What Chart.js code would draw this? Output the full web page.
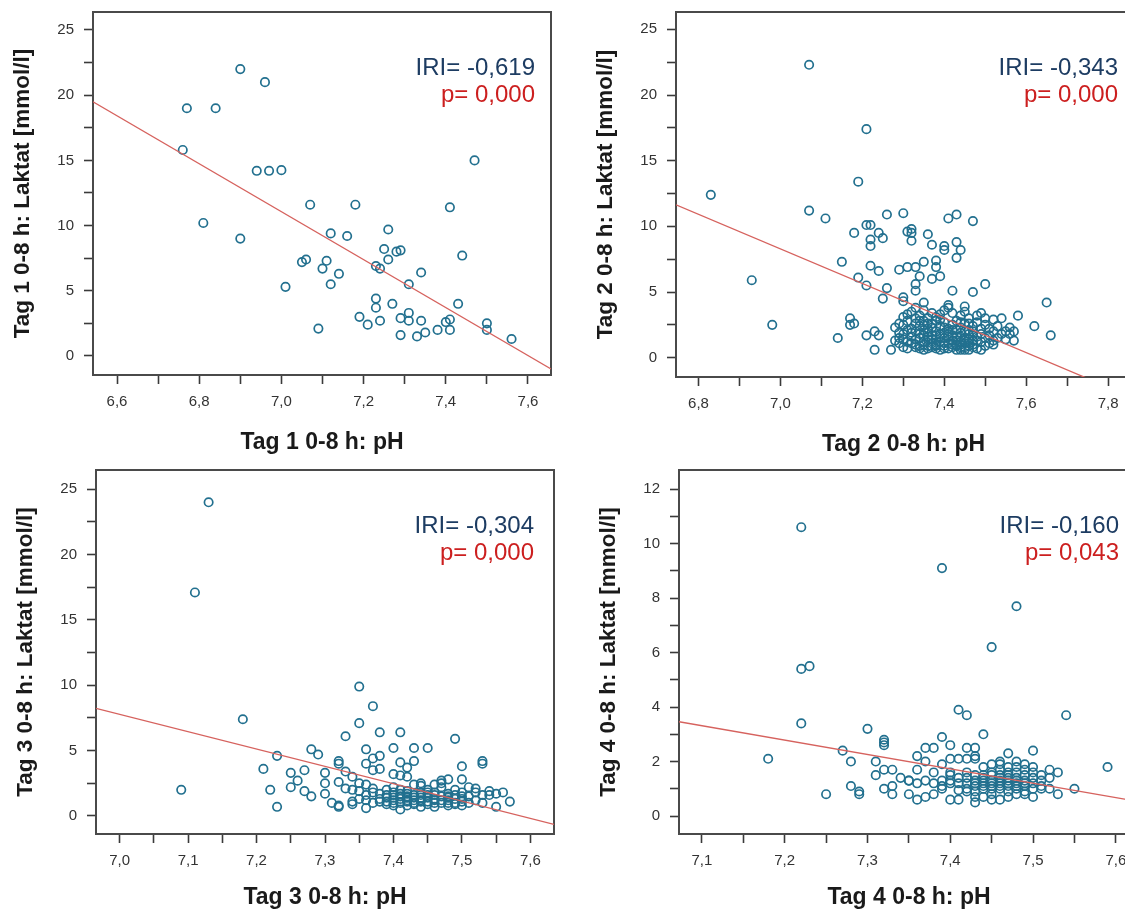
<!DOCTYPE html>
<html><head><meta charset="utf-8">
<script src="https://cdn.jsdelivr.net/npm/chart.js@4.4.1/dist/chart.umd.min.js"></script>
<style>
html,body{margin:0;padding:0;width:1125px;height:916px;overflow:hidden;background:#fff;}
.panel{position:absolute;}
</style></head><body>
<div class="panel" id="w1"><canvas id="c1"></canvas></div>
<div class="panel" id="w2"><canvas id="c2"></canvas></div>
<div class="panel" id="w3"><canvas id="c3"></canvas></div>
<div class="panel" id="w4"><canvas id="c4"></canvas></div>
<script>
// ---------------- DATA ----------------
const xTitles = ['Tag 1 0-8 h: pH', 'Tag 2 0-8 h: pH', 'Tag 3 0-8 h: pH', 'Tag 4 0-8 h: pH'];
const yTitles = ['Tag 1 0-8 h: Laktat [mmol/l]', 'Tag 2 0-8 h: Laktat [mmol/l]', 'Tag 3 0-8 h: Laktat [mmol/l]', 'Tag 4 0-8 h: Laktat [mmol/l]'];
const rLabels = ['IRI= -0,619', 'IRI= -0,343', 'IRI= -0,304', 'IRI= -0,160'];
const pLabels = ['p= 0,000', 'p= 0,000', 'p= 0,000', 'p= 0,043'];

const tag1Points = [[6.76,15.8],[6.77,19.0],[6.84,19.0],[6.81,10.2],[6.90,22.0],[6.90,9.0],[6.96,21.0],[6.94,14.2],[6.97,14.2],[7.00,14.25],[7.01,5.3],[7.07,11.6],[7.09,2.1],[7.05,7.2],[7.06,7.4],[7.11,7.3],[7.10,6.7],[7.12,9.4],[7.12,5.5],[7.14,6.3],[7.16,9.2],[7.18,11.6],[7.19,3.0],[7.21,2.4],[7.23,4.4],[7.23,3.7],[7.23,6.9],[7.24,6.7],[7.24,2.7],[7.25,8.2],[7.26,7.4],[7.26,9.7],[7.27,4.0],[7.28,8.0],[7.29,8.1],[7.29,2.9],[7.29,1.6],[7.31,5.5],[7.31,3.3],[7.31,2.7],[7.33,1.5],[7.34,2.7],[7.34,6.4],[7.35,1.8],[7.38,2.0],[7.40,2.6],[7.41,2.8],[7.41,2.0],[7.41,11.4],[7.43,4.0],[7.44,7.7],[7.47,15.0],[7.50,2.5],[7.50,2.0],[7.56,1.3]];

const tag2Points = [[6.83,12.4],[6.93,5.9],[6.98,2.5],[7.07,22.3],[7.07,11.2],[7.11,10.6],[7.15,7.3],[7.14,1.5],[7.17,3.0],[7.17,2.5],[7.18,2.6],[7.21,17.4],[7.19,13.4],[7.18,9.5],[7.19,6.1],[7.21,5.5],[7.21,10.1],[7.22,10.1],[7.22,9.0],[7.22,8.5],[7.24,9.5],[7.25,9.1],[7.22,7.0],[7.24,6.6],[7.21,1.7],[7.23,2.0],[7.24,1.7],[7.23,0.6],[7.26,10.9],[7.26,5.3],[7.25,4.5],[7.27,0.6],[7.30,11.0],[7.31,9.6],[7.32,9.8],[7.32,9.5],[7.32,8.9],[7.29,6.7],[7.31,6.9],[7.33,6.9],[7.35,7.3],[7.34,6.2],[7.33,5.6],[7.33,5.1],[7.30,4.6],[7.30,4.3],[7.36,9.4],[7.37,8.6],[7.38,7.4],[7.38,6.9],[7.37,6.0],[7.39,6.2],[7.40,8.2],[7.40,8.5],[7.41,10.6],[7.43,10.9],[7.43,8.8],[7.44,8.2],[7.43,7.6],[7.47,10.4],[7.42,5.1],[7.47,5.0],[7.50,5.6],[7.35,4.2],[7.41,4.0],[7.41,3.8],[7.45,3.9],[7.58,3.2],[7.65,4.2],[7.62,2.4],[7.66,1.7],
[7.32,3.5],[7.33,3.8],[7.34,3.2],[7.35,3.6],[7.36,3.0],[7.37,3.4],[7.38,3.1],[7.39,3.3],[7.40,3.6],[7.42,3.4],[7.44,3.2],[7.45,3.5],[7.46,3.0],[7.48,3.2],[7.49,3.4],[7.50,3.0],[7.52,2.9],[7.54,3.0],[7.56,2.3],[7.57,2.0],[7.30,3.1],[7.31,3.3],[7.29,2.6],
[7.28,2.3],[7.29,1.9],[7.30,2.5],[7.31,2.8],[7.32,2.2],[7.33,2.6],[7.34,2.4],[7.35,2.8],[7.36,2.2],[7.37,2.6],[7.38,2.0],[7.39,2.4],[7.40,2.7],[7.41,2.2],[7.42,2.5],[7.43,2.8],[7.44,2.3],[7.45,2.6],[7.46,2.1],[7.47,2.4],[7.48,2.7],[7.49,2.2],[7.50,2.5],[7.51,2.2],[7.52,2.0],[7.53,2.4],[7.55,2.0],[7.56,1.8],[7.33,2.0],[7.35,2.1],[7.37,2.3],[7.41,2.0],[7.43,2.1],[7.45,2.0],[7.47,2.0],
[7.28,1.3],[7.29,1.5],[7.30,1.8],[7.31,1.2],[7.32,1.6],[7.33,1.4],[7.34,1.8],[7.35,1.2],[7.36,1.6],[7.37,1.4],[7.38,1.7],[7.39,1.2],[7.40,1.5],[7.41,1.8],[7.42,1.3],[7.43,1.6],[7.44,1.2],[7.45,1.5],[7.46,1.8],[7.47,1.3],[7.48,1.6],[7.49,1.2],[7.50,1.5],[7.51,1.7],[7.52,1.3],[7.53,1.5],[7.54,1.8],[7.55,1.4],[7.57,1.3],[7.33,1.0],[7.35,1.7],[7.37,1.1],[7.39,1.8],[7.41,1.1],[7.43,1.0],[7.45,1.1],[7.47,1.0],[7.49,1.8],[7.51,1.1],[7.36,1.9],[7.40,1.9],[7.44,1.9],
[7.30,0.8],[7.31,0.7],[7.33,0.8],[7.35,0.6],[7.36,0.9],[7.38,0.7],[7.39,0.6],[7.40,0.9],[7.42,0.8],[7.44,0.6],[7.45,0.8],[7.46,0.6],[7.48,0.7],[7.49,0.6],[7.50,0.9],[7.52,1.0],[7.34,0.9],[7.37,0.8],[7.41,0.7],[7.43,0.9],[7.47,0.8],
[7.34,1.5],[7.35,1.0],[7.36,1.4],[7.37,1.7],[7.38,1.0],[7.38,1.4],[7.39,1.6],[7.40,1.1],[7.41,1.6],[7.42,1.0],[7.42,1.7],[7.43,1.3],[7.44,1.6],[7.44,1.0],[7.45,1.3],[7.46,1.4],[7.46,1.1],[7.47,1.7],[7.48,1.3],[7.45,0.6],[7.44,0.8],[7.46,0.9],[7.43,0.6],[7.34,2.8],[7.33,3.0],[7.35,2.5],[7.36,2.6],[7.38,2.8],[7.39,2.9],[7.40,2.3],[7.42,2.1],[7.44,2.7],[7.46,2.6],[7.32,1.9],[7.31,2.1],[7.30,1.4],[7.29,1.1],[7.32,1.1],[7.34,0.7],[7.36,0.7],[7.38,0.9],[7.40,0.7]];

const tag3Points = [[7.09,2.0],[7.11,17.1],[7.13,24.0],[7.18,7.4],[7.21,3.6],[7.22,2.0],[7.23,0.7],[7.23,4.6],[7.25,3.3],[7.25,2.2],[7.26,2.7],[7.27,3.5],[7.27,1.9],[7.28,5.1],[7.29,4.7],[7.28,1.5],[7.30,2.5],[7.30,3.3],[7.30,1.7],[7.31,1.0],[7.32,0.7],[7.32,0.8],[7.32,4.0],[7.32,4.2],[7.32,2.6],[7.33,6.1],[7.33,3.4],[7.33,2.1],[7.34,3.0],[7.35,7.1],[7.35,9.9],[7.37,8.4],[7.36,5.1],[7.36,4.0],[7.37,3.5],[7.37,4.4],[7.38,4.6],[7.38,6.4],[7.38,3.6],[7.40,5.2],[7.40,3.2],[7.41,6.4],[7.41,4.1],[7.41,3.1],[7.42,3.7],[7.42,3.0],[7.43,4.2],[7.43,5.2],[7.45,5.2],[7.49,5.9],[7.50,2.8],[7.50,3.8],[7.53,4.0],[7.53,4.2],[7.51,2.2],[7.52,2.1],[7.54,1.9],[7.54,1.6],[7.55,0.7],[7.56,1.8],[7.57,1.1],[7.47,2.5],[7.48,2.8],[7.44,2.5],
[7.34,1.1],[7.35,1.3],[7.34,0.9],[7.35,1.9],[7.36,1.6],[7.36,0.6],[7.37,1.0],[7.37,1.8],[7.38,1.3],[7.38,1.1],[7.39,1.6],[7.39,0.9],[7.39,1.4],[7.40,1.2],[7.40,1.8],[7.40,0.8],[7.40,2.2],[7.41,1.0],[7.41,1.5],[7.41,0.5],[7.41,1.3],[7.42,1.1],[7.42,1.7],[7.42,0.8],[7.42,1.4],[7.43,1.2],[7.43,1.6],[7.43,0.9],[7.43,1.0],[7.44,1.4],[7.44,0.7],[7.44,1.8],[7.44,2.3],[7.45,1.1],[7.45,1.6],[7.45,0.9],[7.45,2.0],[7.46,1.3],[7.46,0.7],[7.46,1.8],[7.47,1.0],[7.47,1.5],[7.47,2.2],[7.48,1.2],[7.48,0.8],[7.48,1.7],[7.48,1.4],[7.49,1.0],[7.49,1.6],[7.49,0.9],[7.49,2.0],[7.50,1.3],[7.50,0.8],[7.50,1.8],[7.51,1.0],[7.51,1.5],[7.52,1.2],[7.52,1.8],[7.53,1.6],[7.53,1.0],[7.55,1.7],[7.36,1.2],[7.38,1.7],[7.37,2.1],[7.39,2.0],[7.41,2.0],[7.43,2.4],[7.46,2.4],[7.47,2.7],[7.42,1.9],[7.40,1.6],[7.44,1.1],[7.46,1.0],[7.50,1.1],[7.35,2.5],[7.36,2.4],[7.34,2.0],
[7.40,1.4],[7.41,1.7],[7.42,1.2],[7.43,1.4],[7.44,1.6],[7.45,1.4],[7.46,1.6],[7.47,1.2],[7.48,1.0],[7.49,1.3],[7.44,1.2],[7.42,1.5],[7.40,1.0],[7.46,1.2],[7.48,1.5],[7.50,1.5],[7.39,1.1],[7.45,1.8]];

const tag4Points = [[7.18,2.1],[7.22,3.4],[7.22,5.4],[7.23,5.5],[7.22,10.6],[7.25,0.8],[7.27,2.4],[7.28,1.1],[7.28,2.0],[7.29,0.9],[7.29,0.8],[7.30,3.2],[7.31,2.0],[7.32,1.7],[7.31,1.5],[7.32,2.8],[7.32,2.6],[7.32,2.7],[7.32,1.0],[7.33,0.8],[7.33,1.1],[7.33,1.7],[7.34,1.4],[7.35,0.8],[7.35,1.3],[7.36,1.7],[7.36,2.2],[7.36,0.6],[7.37,0.7],[7.37,2.5],[7.38,2.5],[7.37,2.0],[7.39,2.9],[7.38,0.8],[7.39,1.1],[7.39,1.9],[7.40,2.1],[7.39,9.1],[7.40,2.6],[7.40,0.6],[7.41,0.6],[7.40,1.5],[7.40,1.2],[7.41,0.95],[7.41,2.1],[7.42,2.1],[7.41,3.9],[7.42,3.7],[7.42,2.5],[7.43,2.5],[7.43,2.2],[7.43,2.1],[7.44,3.0],[7.45,6.2],[7.43,0.5],[7.47,2.3],[7.48,7.7],[7.50,2.4],[7.54,3.7],[7.59,1.8],[7.55,1.0],[7.53,0.8],[7.52,1.7],[7.53,1.6],[7.52,1.4],[7.51,1.0],[7.52,1.0],[7.50,0.7],[7.49,0.8],
[7.42,1.2],[7.42,1.0],[7.42,1.4],[7.43,1.1],[7.43,1.3],[7.43,0.9],[7.44,1.2],[7.44,1.0],[7.44,1.5],[7.44,0.7],[7.44,1.8],[7.45,1.1],[7.45,1.3],[7.45,0.8],[7.45,1.6],[7.45,1.9],[7.46,1.0],[7.46,1.2],[7.46,1.4],[7.46,0.6],[7.46,1.7],[7.46,1.9],[7.47,1.1],[7.47,1.3],[7.47,0.9],[7.47,1.5],[7.47,1.8],[7.48,1.0],[7.48,1.2],[7.48,1.4],[7.48,1.6],[7.48,1.8],[7.49,1.1],[7.49,1.3],[7.49,1.5],[7.49,0.9],[7.49,1.9],[7.49,1.7],[7.50,1.2],[7.50,1.0],[7.50,1.4],[7.50,1.6],[7.51,1.1],[7.51,1.3],[7.51,1.5],[7.43,1.5],[7.44,1.3],[7.45,1.0],[7.46,1.5],[7.47,1.6],[7.48,0.8],[7.42,1.6],[7.41,1.2],[7.41,1.4],[7.40,1.3],[7.40,1.6],[7.39,1.3],[7.38,1.2],[7.37,1.3],[7.36,1.2],[7.35,1.3],[7.38,1.6],[7.39,1.0],[7.43,0.7],[7.45,0.6],[7.47,0.7],[7.48,2.0],[7.46,2.0],[7.50,1.8],[7.42,0.9],
[7.44,1.4],[7.45,1.2],[7.46,1.3],[7.47,1.2],[7.48,1.3],[7.49,1.2],[7.45,1.5],[7.47,1.4],[7.43,1.2],[7.46,1.1],[7.48,1.1],[7.44,1.1]];

// regression line end points
const tag1Fit = [[6.5416,19.5],[7.656,-1.0]];
const tag2Fit = [[6.745,11.64],[7.856,-2.98]];
const tag3Fit = [[6.9655,8.24],[7.6345,-0.64]];
const tag4Fit = [[7.0723,3.46],[7.628,0.53]];

// axis ranges
const xRanges = [[6.5416,7.656],[6.745,7.856],[6.9655,7.6345],[7.0723,7.628]];
const yRanges = [[-1.46,26.38],[-1.47,26.32],[-1.38,26.47],[-0.66,12.70]];

// tick values and labels
const xMajor = [[6.6,6.8,7.0,7.2,7.4,7.6],[6.8,7.0,7.2,7.4,7.6,7.8],[7.0,7.1,7.2,7.3,7.4,7.5,7.6],[7.1,7.2,7.3,7.4,7.5,7.6]];
const xMajorLabels = [['6,6','6,8','7,0','7,2','7,4','7,6'],['6,8','7,0','7,2','7,4','7,6','7,8'],['7,0','7,1','7,2','7,3','7,4','7,5','7,6'],['7,1','7,2','7,3','7,4','7,5','7,6']];
const xMinor = [[6.7,6.9,7.1,7.3,7.5],[6.9,7.1,7.3,7.5,7.7],[7.05,7.15,7.25,7.35,7.45,7.55],[7.15,7.25,7.35,7.45,7.55]];
const yMajor = [[0,5,10,15,20,25],[0,5,10,15,20,25],[0,5,10,15,20,25],[0,2,4,6,8,10,12]];
const yMajorLabels = [['0','5','10','15','20','25'],['0','5','10','15','20','25'],['0','5','10','15','20','25'],['0','2','4','6','8','10','12']];
const yMinor = [[2.5,7.5,12.5,17.5,22.5],[2.5,7.5,12.5,17.5,22.5],[2.5,7.5,12.5,17.5,22.5],[1,3,5,7,9,11]];

// ---------------- LAYOUT / STYLE ----------------
const layout = [
  {id:'c1', wrap:'w1', left:0,   top:0,   w:560, h:462, yW:93, rW:9, tH:12, xH:87, dx:16},
  {id:'c2', wrap:'w2', left:583, top:0,   w:557, h:464, yW:93, rW:9, tH:12, xH:87, dx:13},
  {id:'c3', wrap:'w3', left:3,   top:458, w:560, h:459, yW:93, rW:9, tH:12, xH:83, dx:20},
  {id:'c4', wrap:'w4', left:586, top:458, w:562, h:459, yW:93, rW:9, tH:12, xH:83, dx:20}
];
const pointSets = [tag1Points, tag2Points, tag3Points, tag4Points];
const fitSets = [tag1Fit, tag2Fit, tag3Fit, tag4Fit];

const FONT = '"Liberation Sans", Arial, sans-serif';
const FRAME = '#4a4a4a';
const TICKC = '#3a3a3a';
const DOT = '#22708f';
const LINE = '#d6625e';

const statText = {
  id: 'statText',
  afterDatasetsDraw(chart, args, opts) {
    const {ctx, chartArea} = chart;
    ctx.save();
    ctx.font = '24px ' + FONT;
    ctx.textAlign = 'right';
    ctx.textBaseline = 'alphabetic';
    ctx.fillStyle = '#1d3c62';
    ctx.fillText(opts.r, chartArea.right - opts.dx, chartArea.top + 63);
    ctx.fillStyle = '#cc1f1f';
    ctx.fillText(opts.p, chartArea.right - opts.dx, chartArea.top + 90);
    ctx.restore();
  }
};

function near(a, b) { return Math.abs(a - b) < 1e-6; }

layout.forEach((L, i) => {
  const wrap = document.getElementById(L.wrap);
  wrap.style.left = L.left + 'px';
  wrap.style.top = L.top + 'px';
  const cv = document.getElementById(L.id);
  cv.width = L.w; cv.height = L.h;
  cv.style.width = L.w + 'px'; cv.style.height = L.h + 'px';

  const xTicks = xMajor[i].concat(xMinor[i]).sort((a, b) => a - b);
  const yTicks = yMajor[i].concat(yMinor[i]).sort((a, b) => a - b);

  new Chart(cv, {
    type: 'scatter',
    data: {
      datasets: [
        {
          type: 'line',
          data: fitSets[i].map(p => ({x: p[0], y: p[1]})),
          borderColor: LINE,
          borderWidth: 1.3,
          pointRadius: 0,
          fill: false,
          tension: 0
        },
        {
          data: pointSets[i].map(p => ({x: p[0], y: p[1]})),
          pointStyle: 'circle',
          pointRadius: 4.2,
          pointBorderWidth: 1.7,
          pointBackgroundColor: 'rgba(255,255,255,0)',
          pointBorderColor: DOT,
          showLine: false
        }
      ]
    },
    options: {
      responsive: false,
      animation: false,
      devicePixelRatio: 1,
      events: [],
      layout: {padding: 0},
      plugins: {
        legend: {display: false},
        tooltip: {enabled: false},
        statText: {r: rLabels[i], p: pLabels[i], dx: L.dx}
      },
      scales: {
        x: {
          type: 'linear', position: 'bottom',
          min: xRanges[i][0], max: xRanges[i][1],
          afterBuildTicks: s => { s.ticks = xTicks.map(v => ({value: v})); },
          afterFit: s => { s.height = L.xH; s.paddingLeft = 0; s.paddingRight = 0; },
          ticks: {
            autoSkip: false, maxRotation: 0, padding: 9,
            color: '#333', font: {family: FONT, size: 15},
            callback: v => { const k = xMajor[i].findIndex(m => near(m, v)); return k >= 0 ? xMajorLabels[i][k] : ''; }
          },
          grid: {drawOnChartArea: false, drawTicks: true, tickLength: 9, tickColor: TICKC, tickWidth: 1.6},
          border: {display: true, color: FRAME, width: 2},
          title: {display: true, text: xTitles[i], color: '#1a1a1a', font: {family: FONT, size: 23, weight: 'bold'}, padding: {top: 0, bottom: 6}}
        },
        y: {
          type: 'linear', position: 'left',
          min: yRanges[i][0], max: yRanges[i][1],
          afterBuildTicks: s => { s.ticks = yTicks.map(v => ({value: v})); },
          afterFit: s => { s.width = L.yW; s.paddingTop = 0; s.paddingBottom = 0; },
          ticks: {
            autoSkip: false, padding: 10,
            color: '#333', font: {family: FONT, size: 15},
            callback: v => { const k = yMajor[i].findIndex(m => near(m, v)); return k >= 0 ? yMajorLabels[i][k] : ''; }
          },
          grid: {drawOnChartArea: false, drawTicks: true, tickLength: 9, tickColor: TICKC, tickWidth: 1.6},
          border: {display: true, color: FRAME, width: 2},
          title: {display: true, text: yTitles[i], color: '#1a1a1a', font: {family: FONT, size: 22.5, weight: 'bold'}, padding: {top: 9, bottom: 0}}
        },
        x2: {
          type: 'linear', position: 'top', display: true,
          min: xRanges[i][0], max: xRanges[i][1],
          afterFit: s => { s.height = L.tH; s.paddingLeft = 0; s.paddingRight = 0; },
          ticks: {display: false},
          grid: {drawOnChartArea: false, drawTicks: false},
          border: {display: true, color: FRAME, width: 2}
        },
        y2: {
          type: 'linear', position: 'right', display: true,
          min: yRanges[i][0], max: yRanges[i][1],
          afterFit: s => { s.width = L.rW; s.paddingTop = 0; s.paddingBottom = 0; },
          ticks: {display: false},
          grid: {drawOnChartArea: false, drawTicks: false},
          border: {display: true, color: FRAME, width: 2}
        }
      }
    },
    plugins: [statText]
  });
});
</script>
</body></html>
